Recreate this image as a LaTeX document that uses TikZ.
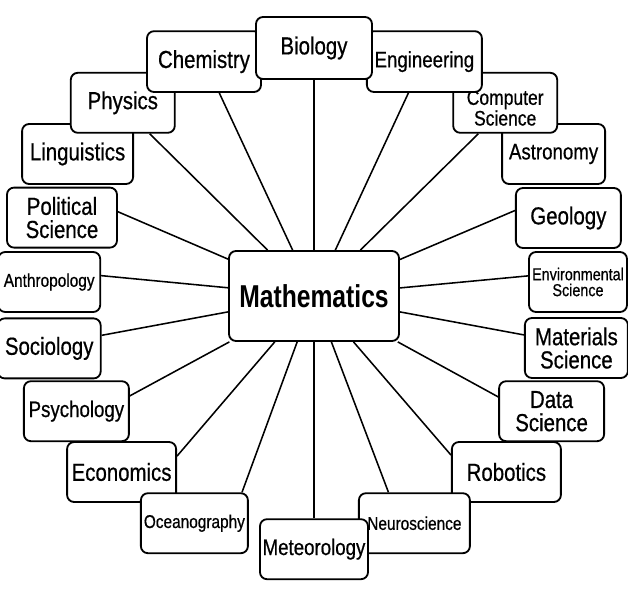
\documentclass[tikz,border=0pt]{standalone}
\usepackage{fontspec}
\setmainfont{Liberation Sans}[FakeStretch=0.83, FakeBold=0.6]
\newfontfamily\hubfont{Liberation Sans}[FakeStretch=0.78]
\usetikzlibrary{positioning}

\begin{document}
\begin{tikzpicture}[
    box/.style={rectangle, rounded corners=5pt, minimum width=2.6cm, minimum height=1.5cm,
                inner sep=1pt, align=center, draw=black, line width=1.3pt, fill=white,
                font=\fontsize{17.5}{16.5}\selectfont},
    midtext/.style={font=\fontsize{16}{15}\selectfont},
    smalltext/.style={font=\fontsize{13.2}{12.5}\selectfont},
    hubbox/.style={box, minimum width=4.25cm, minimum height=2.25cm,
                   font=\hubfont\bfseries\fontsize{22.5}{24}\selectfont},
    link/.style={line width=1.1pt}
]

% background / page size
\fill[white] (-7.85,7.4) rectangle (7.85,-7.575);
\useasboundingbox (-7.85,7.4) rectangle (7.85,-7.575);

% ==================== OUTER RING (sides first, top/bottom last) ====================
\node[box, smalltext, minimum width=2.55cm] (anthropology) at (-6.62, 0.35) {Anthropology};
\node[box, minimum width=2.45cm, font=\fontsize{12.3}{11.3}\selectfont] (env-sci) at (6.6, 0.35) {Environmental\\Science};

\node[box, minimum width=2.75cm] (political-sci) at (-6.3, 1.96) {Political\\Science};
\node[box, minimum width=2.625cm] (geology) at (6.36, 1.95) {Geology};

\node[box, minimum width=2.575cm] (sociology) at (-6.62, -1.31) {Sociology};
\node[box, minimum width=2.575cm] (materials-sci) at (6.56, -1.3) {Materials\\Science};

\node[box, minimum width=2.775cm] (linguistics) at (-5.91, 3.55) {Linguistics};
\node[box, minimum width=2.575cm, midtext] (astronomy) at (5.99, 3.55) {Astronomy};

\node[box, midtext, minimum width=2.625cm] (psychology) at (-5.94, -2.88) {Psychology};
\node[box, minimum width=2.625cm] (data-sci) at (5.94, -2.88) {Data\\Science};

\node[box] (physics) at (-4.78, 4.83) {Physics};
% text sits low in this box, below the Engineering box
\node[box, font=\fontsize{15}{12.8}\selectfont] (comp-sci) at (4.78, 4.83)
    {\raisebox{-5.5pt}[\height][\depth]{\begin{tabular}{@{}c@{}}Computer\\Science\end{tabular}}};

\node[box, minimum width=2.725cm] (economics) at (-4.81, -4.4) {Economics};
\node[box, minimum width=2.725cm] (robotics) at (4.81, -4.4) {Robotics};

\node[box, minimum width=2.85cm, minimum height=1.52cm] (chemistry) at (-2.75, 5.86) {Chemistry};
\node[box, midtext, minimum width=2.875cm, minimum height=1.52cm] (engineering) at (2.76, 5.86) {Engineering};

\node[box, smalltext, minimum width=2.675cm] (oceanography) at (-2.99, -5.68) {Oceanography};
\node[box, smalltext, minimum width=2.775cm] (neuroscience) at (2.51, -5.68) {Neuroscience};

\node[box, minimum width=2.9cm, minimum height=1.55cm] (biology) at (0, 6.2) {Biology};
\node[box, midtext, minimum width=2.7cm] (meteorology) at (0, -6.33) {Meteorology};

% ==================== HUB ====================
\node[hubbox] (math) at (0, 0) {Mathematics};

% ==================== LINKS ====================
% upper half
\draw[link] (biology.south) -- (math);
\draw[link] (chemistry.-64) -- (math);
\draw[link] (engineering.-117) -- (math);
\draw[link] (physics.-49) -- (math);
\draw[link] (comp-sci.-131) -- (math);
\draw[link] (political-sci.6) -- (math);
\draw[link] (geology.172) -- (math);
\draw[link] (anthropology.7) -- (math);
\draw[link] (env-sci.173) -- (math);

% lower half
\draw[link] (sociology.14) -- (math);
\draw[link] (materials-sci.166) -- (math);
\draw[link] (psychology.16) -- (math);
\draw[link] (data-sci.165) -- (math);
\draw[link] (economics.16) -- (math);
\draw[link] (robotics.163) -- (math);
\draw[link] (oceanography.33) -- (math);
\draw[link] (neuroscience.130) -- (math);
\draw[link] (meteorology.north) -- (math);

\end{tikzpicture}
\end{document}
